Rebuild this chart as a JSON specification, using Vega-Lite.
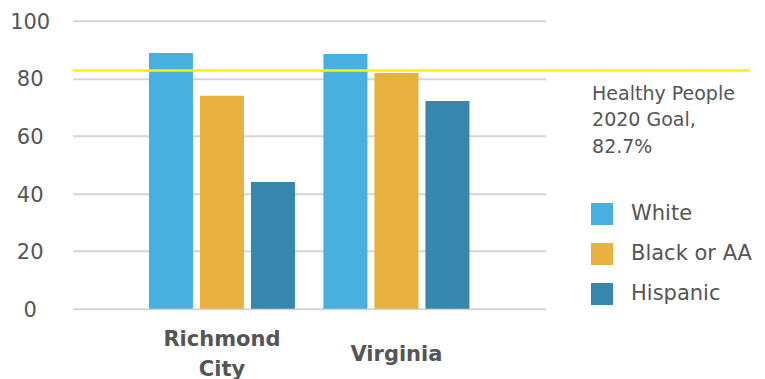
{
  "$schema": "https://vega.github.io/schema/vega-lite/v6.json",
  "width": 473,
  "height": 288,
  "autosize": {"type": "none"},
  "padding": {"left": 72.7, "top": 20.7, "right": 219.3, "bottom": 70.3},
  "background": "#ffffff",
  "config": {
    "view": {"stroke": null},
    "font": "DejaVu Sans"
  },
  "datasets": {
    "rates": [
      {"area": "Richmond City", "group": "White", "pct": 88.8},
      {"area": "Richmond City", "group": "Black or AA", "pct": 73.9},
      {"area": "Richmond City", "group": "Hispanic", "pct": 44.0},
      {"area": "Virginia", "group": "White", "pct": 88.4},
      {"area": "Virginia", "group": "Black or AA", "pct": 81.8},
      {"area": "Virginia", "group": "Hispanic", "pct": 72.1}
    ],
    "goal": [
      {"goal": 82.7, "note": "Healthy People\n2020 Goal,\n82.7%"}
    ]
  },
  "layer": [
    {
      "data": {"name": "rates"},
      "mark": {"type": "bar"},
      "encoding": {
        "x": {
          "field": "area",
          "type": "nominal",
          "sort": ["Richmond City", "Virginia"],
          "scale": {"paddingInner": 0.163, "paddingOuter": 0.437},
          "axis": {
            "title": null,
            "labelAngle": 0,
            "ticks": false,
            "domain": false,
            "grid": false,
            "labelFontSize": 21,
            "labelFontWeight": "bold",
            "labelColor": "#555555",
            "labelBaseline": "alphabetic",
            "labelLineHeight": 30,
            "labelPadding": {"condition": {"test": "datum.value == 'Virginia'", "value": 51.3}, "value": 36.3},
            "labelExpr": "datum.value == 'Richmond City' ? ['Richmond', 'City'] : datum.value"
          }
        },
        "xOffset": {
          "field": "group",
          "type": "nominal",
          "sort": ["White", "Black or AA", "Hispanic"],
          "scale": {"paddingInner": 0.137, "paddingOuter": 0}
        },
        "y": {
          "field": "pct",
          "type": "quantitative",
          "scale": {"domain": [0, 100], "nice": false},
          "axis": {
            "title": null,
            "values": [0, 20, 40, 60, 80, 100],
            "ticks": false,
            "domain": false,
            "grid": true,
            "gridColor": "#d5d5d5",
            "gridWidth": 2,
            "labelFontSize": 21,
            "labelColor": "#555555",
            "labelAlign": "center",
            "labelBaseline": "middle",
            "labelOffset": 1.5,
            "labelPadding": 43
          }
        },
        "color": {
          "field": "group",
          "type": "nominal",
          "scale": {
            "domain": ["White", "Black or AA", "Hispanic"],
            "range": ["#47b0e1", "#e8b13f", "#3587ad"]
          },
          "legend": {
            "title": null,
            "orient": "none",
            "legendX": 518.3,
            "legendY": 182.3,
            "symbolType": "square",
            "symbolSize": 484,
            "symbolStrokeWidth": 0,
            "labelFontSize": 21,
            "labelColor": "#555555",
            "labelOffset": 18,
            "rowPadding": 18
          }
        }
      }
    },
    {
      "data": {"name": "goal"},
      "layer": [
        {
          "mark": {"type": "rule", "color": "#fff200", "strokeWidth": 2.5},
          "encoding": {
            "y": {"field": "goal", "type": "quantitative"},
            "x": {"datum": 0, "type": "quantitative", "scale": {"domain": [0, 1], "nice": false, "zero": false}, "axis": null},
            "x2": {"datum": 1.432}
          }
        },
        {
          "mark": {
            "type": "text",
            "align": "left",
            "baseline": "alphabetic",
            "lineBreak": "\n",
            "lineHeight": 26.5,
            "fontSize": 19,
            "color": "#555555",
            "dy": 29
          },
          "encoding": {
            "y": {"field": "goal", "type": "quantitative"},
            "x": {"datum": 1.098, "type": "quantitative"},
            "text": {"field": "note"}
          }
        }
      ]
    }
  ],
  "resolve": {"scale": {"x": "independent"}}
}
